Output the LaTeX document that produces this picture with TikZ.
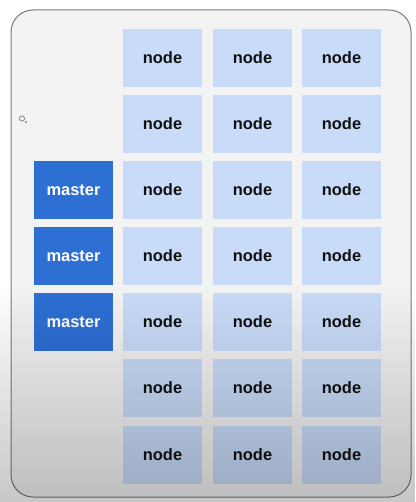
\documentclass[tikz,border=0pt]{standalone}
\usepackage{fontspec}
\setmainfont{Liberation Sans}
\usetikzlibrary{fadings}
\definecolor{framebg}{HTML}{F3F3F3}
\definecolor{framedraw}{HTML}{7A7A7A}
\definecolor{nodefill}{HTML}{C8DBF8}
\definecolor{masterfill}{HTML}{2E6FD4}
\definecolor{nodetext}{HTML}{111111}
\tikzfading[name=darkbottom, top color=transparent!100, bottom color=transparent!0]
\tikzset{
  cell/.style={minimum width=79bp, minimum height=58bp, inner sep=0pt, font=\fontsize{16.5}{18}\selectfont\bfseries},
  worker/.style={cell, fill=nodefill, text=nodetext},
  masterbox/.style={cell, fill=masterfill, text=white},
}
\begin{document}
\begin{tikzpicture}[x=1bp, y=-1bp]
\useasboundingbox (0,0) rectangle (415,502);
\fill[white] (0,0) rectangle (415,502);
\draw[framedraw, fill=framebg, line width=1bp, rounded corners=22bp] (11,10) rectangle (411,497);
% cursor artifact
\draw[gray, line width=0.8bp] (22,118.5) circle (2.6bp);
\fill[black!70] (26,122) circle (0.9bp);
% worker nodes
\foreach \r/\y in {1/58,2/124,3/190,4/256,5/322,6/388,7/454.5}{
  \foreach \c/\x in {1/162.5,2/252.5,3/341.5}{
    \node[worker] (n\r\c) at (\x,\y) {node};
  }
}
% masters
\node[masterbox] (m1) at (73.5,190) {master};
\node[masterbox] (m2) at (73.5,256) {master};
\node[masterbox] (m3) at (73.5,322) {master};
% darkening overlay at the bottom
\fill[black, opacity=0.22, path fading=darkbottom] (0,285) rectangle (415,502);
\end{tikzpicture}
\end{document}
